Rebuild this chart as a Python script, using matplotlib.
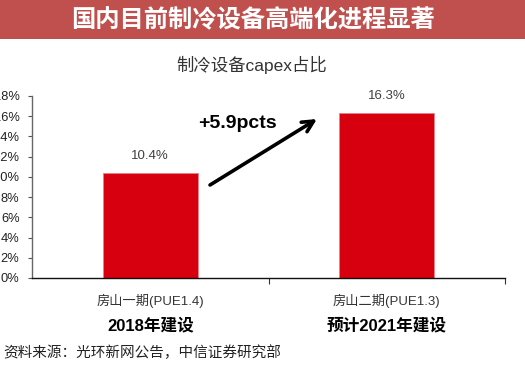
import matplotlib
matplotlib.use("Agg")
import matplotlib.pyplot as plt
from matplotlib.patches import Rectangle
import matplotlib.transforms as mtransforms

plt.rcParams['font.family'] = ['Liberation Sans', 'Noto Sans CJK SC', 'DejaVu Sans']

# ---- data ----
categories = ["房山一期(PUE1.4)", "房山二期(PUE1.3)"]
sublabels = ["2018年建设", "预计2021年建设"]
values = [10.4, 16.3]
value_labels = ["10.4%", "16.3%"]
yticks = [0, 2, 4, 6, 8, 10, 12, 14, 16, 18]
ytick_labels = [f"{t}%" for t in yticks]
title = "国内目前制冷设备高端化进程显著"
subtitle = "制冷设备capex占比"
annotation = "+5.9pcts"
source = "资料来源：光环新网公告，中信证券研究部"

W, H = 525, 372
fig = plt.figure(figsize=(W / 100, H / 100), dpi=100)

# title banner
fig.patches.append(Rectangle((0, 1 - 39 / H), 1, 39 / H, transform=fig.transFigure,
                             facecolor="#C0504D", edgecolor="none", zorder=0))
fig.text(253 / W, 1 - 20 / H, title, color="white", fontsize=17.5, fontweight="bold",
         ha="center", va="center", family=['Noto Sans CJK SC'])

fig.text(252 / W, 1 - 65 / H, subtitle, color="#333333", fontsize=12.5,
         ha="center", va="center")

ax = fig.add_axes([32 / W, 1 - 278 / H, (505 - 32) / W, (278 - 96) / H])
x = list(range(len(categories)))
ax.bar(x, values, width=0.4, color="#D7000F", edgecolor="#E8808A", linewidth=0.6, zorder=2)
for xi, v, lab in zip(x, values, value_labels):
    ax.annotate(lab, (xi, v), xytext=(0, 8), textcoords="offset points",
                ha="center", va="bottom", fontsize=9.5, color="#404040")

ax.set_xlim(-0.5, len(categories) - 0.5)
ax.set_ylim(0, 18)
ax.set_yticks(yticks)
ax.set_yticklabels(ytick_labels, fontsize=9.3, color="#222222")
ax.tick_params(axis="y", direction="out", length=3, width=0.8, color="#555555", pad=6)

ax.set_xticks(x)
ax.set_xticklabels(categories, fontsize=9.5, color="#333333")
ax.tick_params(axis="x", which="major", length=0, pad=11.5)
ax.set_xticks([i + 0.5 for i in x], minor=True)
ax.tick_params(axis="x", which="minor", direction="out", length=4, width=0.8, color="#333333")

for s in ["top", "right"]:
    ax.spines[s].set_visible(False)
ax.spines["left"].set_color("#666666")
ax.spines["left"].set_linewidth(1.0)
ax.spines["bottom"].set_color("#111111")
ax.spines["bottom"].set_linewidth(1.0)

trans = mtransforms.blended_transform_factory(ax.transData, fig.transFigure)
for xi, sl in zip(x, sublabels):
    ax.text(xi, 1 - 325 / H, sl, transform=trans, ha="center", va="center",
            fontsize=12, fontweight="bold", color="black")

# arrow and annotation
ax.annotate("", xy=((317 - 32) / 473, (278 - 119) / 182),
            xytext=((210 - 32) / 473, (278 - 185) / 182),
            xycoords="axes fraction", textcoords="axes fraction",
            arrowprops=dict(arrowstyle="->", lw=2.6, color="black",
                            mutation_scale=20, shrinkA=0, shrinkB=0))
ax.text((198 - 32) / 473, (278 - 124) / 182, annotation, transform=ax.transAxes,
        ha="left", va="center", fontsize=14, fontweight="bold", color="black")

fig.text(3 / W, 1 - 353 / H, source, color="#222222", fontsize=10.5,
         ha="left", va="center")

fig.savefig("out.png", dpi=100)
